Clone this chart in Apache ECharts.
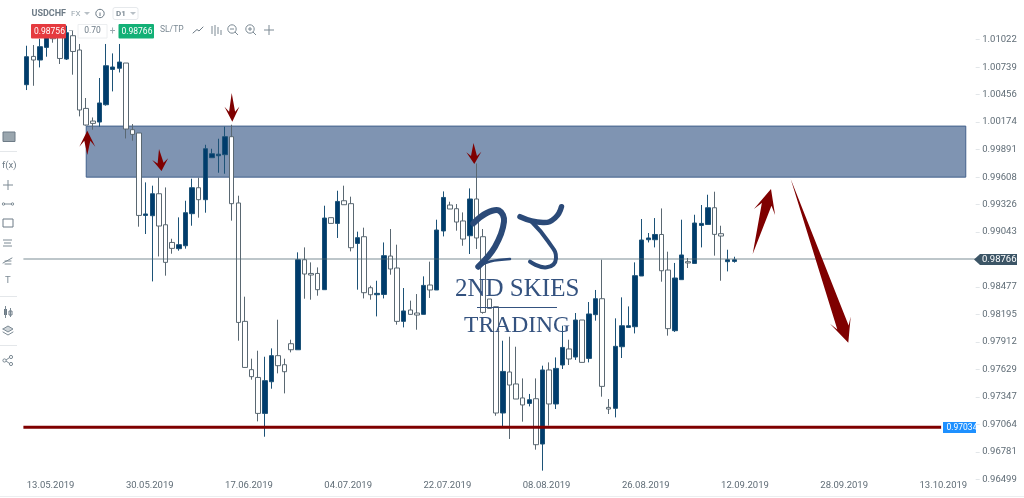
<!DOCTYPE html>
<html><head><meta charset="utf-8">
<style>html,body{margin:0;padding:0;background:#fff}#c{width:1024px;height:498px}</style>
<script src="https://cdn.jsdelivr.net/npm/echarts@6/dist/echarts.min.js"></script>
</head><body><div id="c"></div>
<script>
const tickLabels = ['13.05.2019','30.05.2019','17.06.2019','04.07.2019','22.07.2019','08.08.2019','26.08.2019','12.09.2019','28.09.2019','13.10.2019'];
const priceTicks = [1.01022,1.00739,1.00456,1.00174,0.99891,0.99608,0.99326,0.99043,0.98477,0.98195,0.97912,0.97629,0.97347,0.97064,0.96781,0.96499];
const candleValues = [
[1.00559,1.00847,1.00504,1.00960],[1.00850,1.00813,1.00548,1.00967],[1.00813,1.00950,1.00737,1.01032],[1.00943,1.01053,1.00847,1.01114],
[1.01083,1.01032,1.00991,1.01135],[1.01114,1.00829,1.00772,1.01166],[1.00823,1.01094,1.00813,1.01166],[1.01063,1.00901,1.00662,1.01114],
[1.00916,1.00299,1.00233,1.00978],[1.00315,1.00144,1.00137,1.00422],[1.00185,1.00161,1.00096,1.00222],[1.00175,1.00371,1.00127,1.00628],
[1.00353,1.00754,1.00343,1.00978],[1.00716,1.00741,1.00490,1.00881],[1.00728,1.00792,1.00685,1.00978],[1.00782,1.00103,1.00006,1.00782],
[1.00096,1.00048,0.99983,1.00154],[1.00062,0.99214,0.99098,1.00062],[0.99214,0.99229,0.99023,0.99554],[0.99211,0.99437,0.98535,0.99520],
[0.99437,0.99105,0.98792,0.99605],[0.99118,0.98731,0.98594,0.99502],[0.98936,0.98875,0.98820,0.98974],[0.98872,0.98913,0.98851,0.99194],
[0.98902,0.99242,0.98872,0.99365],[0.99232,0.99499,0.99108,0.99592],[0.99499,0.99376,0.99191,0.99602],[0.99376,0.99900,0.99242,0.99941],
[0.99808,0.99849,0.99808,0.99900],[0.99828,0.99844,0.99653,1.00003],[0.99839,1.00024,0.99643,1.00127],[1.00024,0.99335,0.99160,1.00147],
[0.99342,0.98113,0.97925,0.99417],[0.98124,0.97650,0.97647,0.98378],[0.97627,0.97555,0.97524,0.97740],[0.97547,0.97177,0.97095,0.97822],
[0.97177,0.97514,0.96937,0.97760],[0.97503,0.97771,0.97431,0.97846],[0.97771,0.97668,0.97589,0.98141],[0.97678,0.97606,0.97383,0.97740],
[0.97894,0.97832,0.97805,0.97935],[0.97832,0.98758,0.97832,0.98834],[0.98758,0.98611,0.98357,0.98885],[0.98617,0.98601,0.98347,0.98731],
[0.98617,0.98450,0.98388,0.98679],[0.98450,0.99187,0.98450,0.99314],[0.99191,0.99132,0.99132,0.99191],[0.99132,0.99358,0.98982,0.99468],
[0.99365,0.99324,0.99324,0.99520],[0.99335,0.98882,0.98844,0.99407],[0.98926,0.98985,0.98450,0.99047],[0.98995,0.98419,0.98360,0.99088],
[0.98470,0.98398,0.98347,0.98491],[0.98398,0.98412,0.98175,0.98542],[0.98401,0.98800,0.98360,0.98936],[0.98796,0.98663,0.98604,0.99074],
[0.98673,0.98124,0.98090,0.98913],[0.98124,0.98231,0.98062,0.98467],[0.98241,0.98196,0.98193,0.98337],[0.98210,0.98189,0.98038,0.98405],
[0.98196,0.98494,0.98196,0.98587],[0.98498,0.98447,0.98365,0.98738],[0.98447,0.99064,0.98447,0.99170],[0.99054,0.99399,0.98998,0.99461],
[0.99321,0.99280,0.99280,0.99355],[0.99283,0.99146,0.99057,0.99331],[0.99157,0.98971,0.98902,0.99245],[0.99005,0.99383,0.98817,0.99492],
[0.99383,0.98982,0.98869,0.99749],[0.98995,0.98216,0.98203,0.99074],[0.98354,0.98257,0.98257,0.98354],[0.98275,0.97181,0.97153,0.98275],
[0.97181,0.97609,0.97040,0.97925],[0.97603,0.97469,0.96914,0.97966],[0.97480,0.97325,0.97325,0.97863],[0.97336,0.97264,0.97092,0.97537],
[0.97280,0.97318,0.97249,0.97377],[0.97328,0.96855,0.96804,0.97537],[0.96862,0.97624,0.96588,0.97668],[0.97624,0.97274,0.97051,0.97702],
[0.97274,0.97640,0.97222,0.97753],[0.97675,0.97856,0.97634,0.98079],[0.97840,0.97737,0.97675,0.97935],[0.97757,0.98138,0.97727,0.98210],
[0.98138,0.97702,0.97702,0.98138],[0.97743,0.98200,0.97702,0.98323],[0.98193,0.98357,0.98131,0.98447],[0.98357,0.97455,0.97349,0.98758],
[0.97239,0.97222,0.97171,0.97325],[0.97229,0.97867,0.97136,0.98155],[0.97863,0.98079,0.97747,0.98371],[0.98062,0.98079,0.98062,0.98278],
[0.98069,0.98594,0.98000,0.98731],[0.98591,0.98961,0.98591,0.99177],[0.98964,0.98982,0.98936,0.99033],[0.98964,0.99018,0.98885,0.99187],
[0.99018,0.98645,0.98532,0.99286],[0.98652,0.98049,0.97977,0.98841],[0.98028,0.98570,0.98015,0.98725],[0.98553,0.98807,0.98553,0.99170],
[0.98738,0.98725,0.98673,0.98776],[0.98720,0.99136,0.98720,0.99221],[0.99111,0.99132,0.98885,0.99321],[0.99121,0.99293,0.99121,0.99427],
[0.99293,0.99019,0.98800,0.99458],[0.99026,0.99002,0.98542,0.99108],[0.98738,0.98758,0.98638,0.98861],[0.98741,0.98758,0.98728,0.98789]
];
const zoneBand = [1.00133,0.99608];
const zoneIndex = [9,142];
const supportLevel = 0.97034;
const currentPrice = 0.98766;
const bidPrice = '0.98756';
const askPrice = '0.98766';

const SLOTS = 144;
const categories = [];
for (let i = 0; i < SLOTS; i++) categories.push(i % 15 === 0 ? tickLabels[i / 15] : '');

const UI = 'Roboto, sans-serif';
const GREY = '#7c8a94';
const g = [];
const txt = (text,x,y,o={}) => g.push({type:'text',z:100,style:{text,x,y,fill:o.fill||GREY,font:`${o.weight||'normal'} ${o.size||9.5}px ${o.family||UI}`,align:o.align||'left',verticalAlign:'middle',textAlign:o.align||'left',textVerticalAlign:'middle'}});
const rect = (x,y,w,h,fill,stroke,r) => g.push({type:'rect',z:99,shape:{x,y,width:w,height:h,r:r||0},style:{fill:fill||'none',stroke:stroke||'none',lineWidth:1}});
const ln = (x1,y1,x2,y2,c,w) => g.push({type:'line',z:99,shape:{x1,y1,x2,y2},style:{stroke:c||GREY,lineWidth:w||1}});
const circ = (cx,cy,r,c) => g.push({type:'circle',z:99,shape:{cx,cy,r},style:{fill:'none',stroke:c||GREY,lineWidth:1}});
const poly = (pts,fill) => g.push({type:'polygon',z:99,shape:{points:pts},style:{fill}});
const pline = (pts,c,w,smooth) => g.push({type:'polyline',z:99,shape:{points:pts,smooth:smooth||0},style:{stroke:c||GREY,lineWidth:w||1,fill:'none',lineCap:'round',lineJoin:'round'}});

// annotation arrows
const arrow = (tx,ty,px,py,h,w,hn,wn) => {
  const L=Math.hypot(px-tx,py-ty), dx=(px-tx)/L, dy=(py-ty)/L, nx=-dy, ny=dx;
  const at=(d,s)=>[px-dx*d+nx*s,py-dy*d+ny*s];
  g.push({type:'polygon',z:98,shape:{points:[[tx,ty],at(hn,wn),at(h,w),[px,py],at(h,-w),at(hn,-wn)]},style:{fill:'#7f0000'}});
};
arrow(87.3,155,87.3,130.7,16,8,10,3);
arrow(159,149,161.5,171,12,8,8,3);
arrow(231.7,93,232.3,121.7,15,7.5,10,3);
arrow(473.5,143,474.3,164,12,7.5,8,3);
arrow(752.7,254,771,189,24,11,16,5);
arrow(790.7,179,848.3,342.7,24,11,16,6);

// watermark logo
const LOGO='#2b4a78';
pline([[473.3,223.3],[486.7,213],[499,210.5],[504,221.7],[495,246.7],[478.3,266.7]],LOGO,6,0.4);
pline([[478.3,266.7],[490,261.5],[510,259]],LOGO,2.5,0.4);
pline([[520,216.7],[543,222.5],[555,218],[561.5,206.7]],LOGO,5.5,0.5);
pline([[531.7,221.7],[548.3,241.7],[556,258.3],[546.7,267.3],[530,261.7]],LOGO,4,0.5);
txt('2ND SKIES',455,289,{fill:'#34527f',size:25,family:'"Liberation Serif", serif'});
ln(477,307.5,557,307.5,'#34527f',1.2);
txt('TRADING',464,326,{fill:'#34527f',size:23.6,family:'"Liberation Serif", serif'});

// price tags
poly([[974,259.5],[980,254],[1017,254],[1017,265],[980,265]],'#3c5566');
txt(askPrice,982,260,{fill:'#fff',size:9.5});
rect(943,422,33,11,'#1e90ff');
txt(String(supportLevel.toFixed(5)),946.5,427.5,{fill:'#fff',size:8.5});

// top toolbar
txt('USDCHF',31.5,13.5,{weight:'bold',size:9,fill:'#6d7b86'});
txt('FX',71,13.5,{size:8,fill:'#9aa6ae'});
poly([[84,12],[90,12],[87,15]],'#b8c0c6');
circ(100,13.5,4.2,'#6d7b86'); ln(100,12.5,100,16,'#6d7b86',1);
rect(113,7.5,25,12,'#fff','#e6e9ec',2);
txt('D1',116,13.5,{size:8,fill:'#7c8a94',weight:'bold'});
poly([[130,12],[136,12],[133,15]],'#b8c0c6');
rect(31,24,35,14.5,'#e53a3f',null,1);
txt(bidPrice,34,31.5,{fill:'#fff',size:8.5});
rect(78,24.5,29,13.5,'#fff','#eceef0');
txt('−',71,31,{size:10,fill:'#9aa6ae',align:'center'});
txt('0.70',92.5,31,{size:8.5,align:'center',fill:'#6d7b86'});
txt('+',112.5,31,{size:10,fill:'#9aa6ae',align:'center'});
rect(118.5,24,35.5,14.5,'#12b076',null,1);
txt(askPrice,121.5,31.5,{fill:'#fff',size:8.5});
txt('SL/TP',160,29.5,{size:8.5});
pline([[193,33],[197,29.5],[199,31],[203,27]],'#6d7b86',1);
ln(212,26,212,34); ln(215,25,215,36); ln(218,27,218,34); ln(221,30,221,35);
circ(232,29,4.2); ln(235,32,238,35); ln(230,29,234,29);
circ(250,29,4.2); ln(253,32,256,35); ln(248,29,252,29); ln(250,27,250,31);
ln(264,30,274,30); ln(269,25,269,35);

// left toolbar
rect(3,132,12,9.5,'#9aa6ae','#6d7b86');
ln(0,151.5,17,151.5,'#e4e7ea');
txt('f(x)',2,166,{size:9.5,fill:'#6d7b86'});
ln(3,185,13,185); ln(8,180,8,190);
ln(4,204,12,204); circ(3.5,204,1.2); circ(12.5,204,1.2);
rect(3,219,10,8,'#fff','#6d7b86');
ln(3,240,12,240); ln(4,243,11,243); ln(3,246,12,246);
pline([[3,263],[12,258]]); pline([[5,261],[11,261]]); pline([[5,264],[11,264]]);
txt('T',5,281,{size:9.5});
ln(0,296.5,17,296.5,'#e4e7ea');
rect(4,309,3,6,'#6d7b86'); ln(5.5,306,5.5,318); rect(9,311,3,4,'#fff','#6d7b86'); ln(10.5,308,10.5,317);
poly([[8,326],[13,329],[8,332],[3,329]],'#cfd5d9'); pline([[3,332],[8,335],[13,332]]);pline([[3,329],[8,326],[13,329],[8,332],[3,329]]);
ln(0,345.5,17,345.5,'#e4e7ea');
circ(4.5,360.5,1.6); circ(11,357,1.6); circ(11,364,1.6); ln(6,360,9.6,357.5); ln(6,361,9.6,363.5);
ln(0,496.5,1024,496.5,'#eceef0');

const chart = echarts.init(document.getElementById('c'), null, {renderer:'canvas'});
chart.setOption({
  animation:false,
  backgroundColor:'#fff',
  grid:{left:23.4,right:48.3,top:39.7,bottom:18.7,containLabel:false},
  xAxis:{type:'category',data:categories,boundaryGap:true,
    axisLine:{show:false},axisTick:{show:false},splitLine:{show:false},
    axisLabel:{interval:14,align:'left',margin:1.5,fontFamily:UI,fontSize:9.5,color:'#5f6c76',hideOverlap:false}},
  yAxis:{type:'value',position:'right',scale:true,min:0.96499,max:1.01022,
    splitLine:{show:false},axisLine:{show:false},
    axisTick:{show:true,length:4,lineStyle:{color:'#e2e6e9'},customValues:priceTicks},
    axisLabel:{customValues:priceTicks,margin:6.5,fontFamily:UI,fontSize:9.5,color:'#5f6c76',alignMinLabel:'bottom',formatter:v=>v.toFixed(5),hideOverlap:false}},
  series:[
    {type:'candlestick',data:candleValues,barWidth:5,z:2,clip:true,
      itemStyle:{color:'#003c6c',color0:'#ffffff',borderColor:'#1c5277',borderColor0:'#5a6872',borderWidth:1}},
    {type:'line',data:[],z:3,silent:true,
      markArea:{silent:true,
        itemStyle:{color:'rgba(0,41,102,0.5)',borderColor:'#42608c',borderWidth:1},
        data:[[{coord:[zoneIndex[0],zoneBand[0]]},{coord:[zoneIndex[1],zoneBand[1]]}]]}},
    {type:'custom',z:4,silent:true,clip:false,
      data:[[0,143,currentPrice],[0,138,supportLevel]],
      encode:{x:[0,1],y:2},
      renderItem(params,api){
        const band=api.size([1,0])[0];
        const a=api.coord([api.value(0),api.value(2)]);
        const b=api.coord([api.value(1),api.value(2)]);
        const isLevel=params.dataIndex===1;
        return {type:'line',shape:{x1:a[0]-band/2,y1:a[1],x2:b[0]+band/2-(isLevel?1.5:-1),y2:b[1]},
          style:{stroke:isLevel?'#7f0000':'rgba(80,105,115,0.5)',lineWidth:isLevel?3:1.5}};
      }}
  ],
  graphic:{elements:g}
});
</script></body></html>
